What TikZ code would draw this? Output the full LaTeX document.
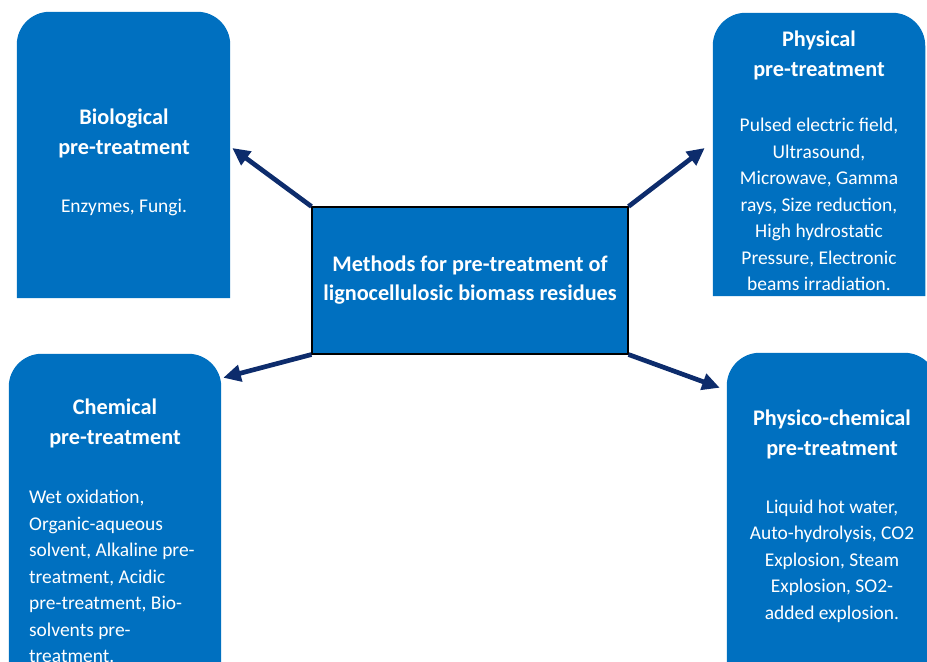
\documentclass[tikz,border=0pt]{standalone}
\usepackage{fontspec}
\setmainfont{Carlito}
\usetikzlibrary{arrows.meta}
\definecolor{boxblue}{HTML}{0070C0}
\definecolor{arrownavy}{HTML}{0D2C6C}

\begin{document}
\begin{tikzpicture}[x=0.03cm, y=0.03cm,
  box/.style={rectangle, inner sep=0pt},
  head/.style={text=white, align=center, font=\fontsize{19}{25.6}\selectfont\bfseries},
  body/.style={text=white, align=center, font=\fontsize{16.6}{22.6}\selectfont},
  arr/.style={arrownavy, line width=4pt, -{Triangle[length=15pt, width=14pt]}}]
  \useasboundingbox (0,0) rectangle (927,661);
  \clip (0,0) rectangle (927,661);

  \node[box, minimum width=6.39cm, minimum height=8.58cm] (bio) at (123.5,506) {};
  \node[box, minimum width=6.36cm, minimum height=8.49cm] (phys) at (819,506.5) {};
  \node[box, minimum width=6.36cm, minimum height=10.38cm] (chem) at (115,134) {};
  \node[box, minimum width=6.30cm, minimum height=10.41cm] (physchem) at (832,134.5) {};

  \fill[boxblue] (bio.south west) -- ([shift={(0,-33)}]bio.north west) arc[start angle=180, end angle=90, radius=33] -- ([shift={(-33,0)}]bio.north east) arc[start angle=90, end angle=0, radius=33] -- (bio.south east) -- cycle;
  \fill[boxblue] (phys.south west) -- ([shift={(0,-33)}]phys.north west) arc[start angle=180, end angle=90, radius=33] -- ([shift={(-33,0)}]phys.north east) arc[start angle=90, end angle=0, radius=33] -- (phys.south east) -- cycle;
  \fill[boxblue] (chem.south west) -- ([shift={(0,-33)}]chem.north west) arc[start angle=180, end angle=90, radius=33] -- ([shift={(-33,0)}]chem.north east) arc[start angle=90, end angle=0, radius=33] -- (chem.south east) -- cycle;
  \fill[boxblue] (physchem.south west) -- ([shift={(0,-33)}]physchem.north west) arc[start angle=180, end angle=90, radius=33] -- ([shift={(-33,0)}]physchem.north east) arc[start angle=90, end angle=0, radius=33] -- (physchem.south east) -- cycle;

  \node[head] (biotitle) at (124,528) {Biological\\pre-treatment};
  \node[body] (biotext) at (124,454) {Enzymes, Fungi.};

  \node[head] (phystitle) at (819,606) {Physical\\pre-treatment};
  \node[body] (phystext) at (819,456.5) {Pulsed electric field,\\Ultrasound,\\Microwave, Gamma\\rays, Size reduction,\\High hydrostatic\\Pressure, Electronic\\beams irradiation.};

  \node[head] (chemtitle) at (115,238) {Chemical\\pre-treatment};
  \node[body, align=left, anchor=west] (chemtext) at (25,84.5) {Wet oxidation,\\Organic-aqueous\\solvent, Alkaline pre-\\treatment, Acidic\\pre-treatment, Bio-\\solvents pre-\\treatment.};

  \node[head] (pctitle) at (832,227) {Physico-chemical\\pre-treatment};
  \node[body] (pctext) at (832,100) {Liquid hot water,\\Auto-hydrolysis, CO2\\Explosion, Steam\\Explosion, SO2-\\added explosion.};

  \node[box, draw=black, line width=0.9pt, fill=boxblue, text=white, align=center,
    minimum width=9.48cm, minimum height=4.41cm,
    font=\fontsize{19}{24.7}\selectfont\bfseries] (methods) at (470,380.5)
    {Methods for pre-treatment of\\lignocellulosic biomass residues};

  \draw[arr] (methods.north west) -- ([shift={(2,7)}]bio.east);
  \draw[arr] (methods.north east) -- ([shift={(-8,6.5)}]phys.west);
  \draw[arr] (methods.south west) -- ([shift={(2,-24)}]chem.north east);
  \draw[arr] (methods.south east) -- ([shift={(-7,-35)}]physchem.north west);

\end{tikzpicture}
\end{document}
